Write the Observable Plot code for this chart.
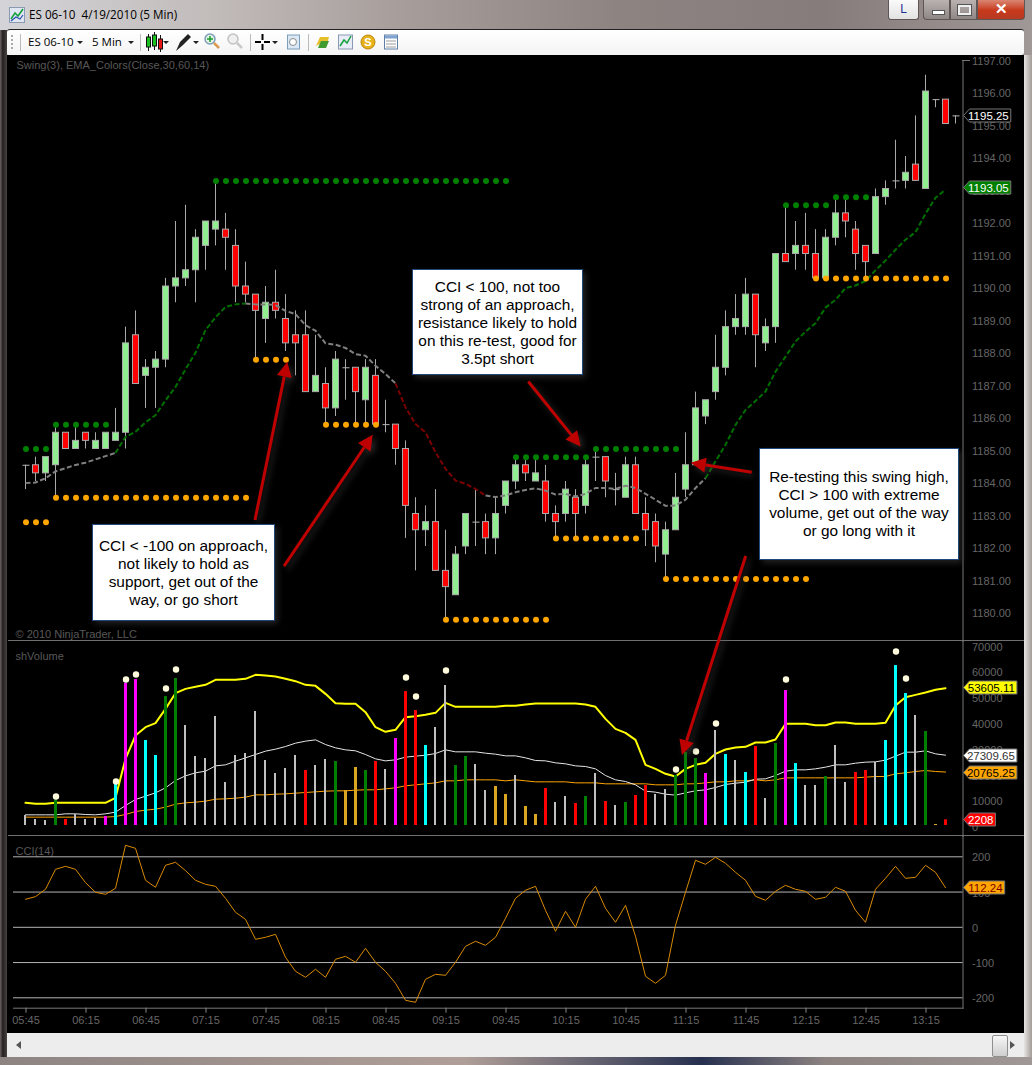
<!DOCTYPE html>
<html>
<head>
<meta charset="utf-8">
<title>ES 06-10 4/19/2010 (5 Min)</title>
<script src="https://cdn.jsdelivr.net/npm/d3@7"></script>
<script src="https://cdn.jsdelivr.net/npm/@observablehq/plot@0.6"></script>
<style>
html,body{margin:0;padding:0;background:#8a8280;}
#win{position:relative;width:1032px;height:1065px;overflow:hidden;
 background:linear-gradient(90deg,#d4d4d8 0%,#c2bcbb 20%,#a89f9c 38%,#8d8482 60%,#867c7b 80%,#a09896 100%);}
#chart{position:absolute;left:7px;top:55px;width:1017px;height:978px;background:#000;}
#rightedge{position:absolute;left:1024px;top:55px;width:8px;height:1010px;background:linear-gradient(90deg,#e6e4e2,#a39b98);}
#leftedge{position:absolute;left:0;top:30px;width:7px;height:1035px;background:linear-gradient(90deg,#6c6664,#241f20 40%,#4a4543);}
#botedge{position:absolute;left:0;top:1057px;width:1032px;height:8px;background:linear-gradient(90deg,#8d8482,#b09f98 45%,#26304f 68%,#8d8482 80%,#a09896);}
#title{position:absolute;left:29px;top:6px;font:11.7px "Open Sans","Noto Sans",sans-serif;color:#000;white-space:pre;}
#toolbar{position:absolute;left:7px;top:29px;width:1017px;height:26px;background:linear-gradient(#fff,#f4f4f4);border-top:1px solid #222;box-sizing:border-box;border-radius:3px;}
.tbt{position:absolute;top:34px;font:11.5px "Open Sans","Noto Sans",sans-serif;color:#000;white-space:pre;}
#toolicons{position:absolute;left:0;top:29px;}
.wb{position:absolute;top:0;height:20px;box-sizing:border-box;border:1px solid #5d5654;border-top:none;}
#scroll{position:absolute;left:7px;top:1033px;width:1017px;height:24px;background:#ededed;}
#thumb{position:absolute;left:985px;top:2px;width:14px;height:20px;background:linear-gradient(#f6f6f6,#cfcfcf);border:1px solid #8e8f8f;border-radius:2px;box-sizing:content-box;}
.sep{position:absolute;left:8px;width:1016px;height:1px;background:#6f6f6f;z-index:2;}
.callout{position:absolute;box-sizing:border-box;background:#fff;border:1px solid #1f497d;z-index:5;
 font:15.4px/18px "Liberation Sans",Arial,sans-serif;color:#000;text-align:center;white-space:pre;box-shadow:3px 3px 6px rgba(60,60,60,.55);}
svg.plotpanel{position:absolute;left:0;}
</style>
</head>
<body>
<div id="win">
  <div id="leftedge"></div>
  <div id="rightedge"></div>
  <div id="botedge"></div>
  <div id="title">ES 06-10  4/19/2010 (5 Min)</div>
  <svg style="position:absolute;left:9px;top:7px" width="16" height="16"><rect x=".5" y=".5" width="15" height="15" fill="#dfe6f2" stroke="#8a9ab5"/><path d="M2,12 L6,6 L9,9 L14,2" fill="none" stroke="#14a03c" stroke-width="1.6"/><path d="M2,14 L7,10 L11,12 L14,8" fill="none" stroke="#2a4fb0" stroke-width="1.2"/></svg>
  <div class="wb" style="left:888px;width:31px;background:linear-gradient(#fafafa,#e2e2e2);border-radius:0 0 3px 3px;font:12px 'Liberation Sans',Arial;color:#1c2f96;text-align:center;line-height:19px;">L</div>
  <div class="wb" style="left:923px;width:27px;background:linear-gradient(#b9b2b0,#8f8785);border-radius:0 0 0 4px;"><div style="position:absolute;left:8px;top:10px;width:11px;height:3px;background:#fff;border:1px solid #555;"></div></div>
  <div class="wb" style="left:950px;width:27px;background:linear-gradient(#b9b2b0,#8f8785);"><div style="position:absolute;left:7px;top:5px;width:9px;height:6px;border:2px solid #eee;outline:1px solid #555;"></div></div>
  <div class="wb" style="left:977px;width:48px;background:linear-gradient(#d98672,#c8391c 55%,#b53a22);border-radius:0 0 4px 0;color:#fff;font:bold 15px 'Liberation Sans',Arial;text-align:center;line-height:18px;">✕</div>
  <div id="toolbar"></div>
  <div class="tbt" style="left:28px">ES 06-10</div>
  <div class="tbt" style="left:92px">5 Min</div>
  <svg id="toolicons" width="410" height="26">
    <g fill="#aaa"><rect x="11" y="6" width="2" height="2"/><rect x="11" y="10" width="2" height="2"/><rect x="11" y="14" width="2" height="2"/><rect x="11" y="18" width="2" height="2"/></g>
    <g stroke="#bbb"><path d="M20.5,5V22M140.5,5V22M250.5,5V22M308.5,5V22"/></g>
    <g fill="#222"><path d="M77,12h6l-3,3zM128,12h6l-3,3zM163,12h6l-3,3zM193,12h6l-3,3zM272,12h6l-3,3z"/></g>
    <g stroke="#111"><path d="M148.5,5V22M154.5,3V21M160.5,6V23"/></g>
    <rect x="146.5" y="8" width="4" height="10" fill="#19c21f" stroke="#111"/><rect x="152.5" y="6" width="4" height="11" fill="#19c21f" stroke="#111"/><rect x="158.5" y="10" width="4" height="10" fill="#e81313" stroke="#111"/>
    <path d="M176,22 L180,13 L188,5 L191,8 L183,16 Z" fill="#222"/>
    <circle cx="210" cy="10" r="5" fill="#e4f3e4" stroke="#7d9eb9" stroke-width="1.5"/><path d="M207,10h6M210,7v6" stroke="#1a9c2c" stroke-width="1.5"/><path d="M214,14l5,5" stroke="#d99a50" stroke-width="2.5"/>
    <circle cx="233" cy="10" r="5" fill="#efefef" stroke="#c2c2c2" stroke-width="1.5"/><path d="M237,14l5,5" stroke="#c9c9c9" stroke-width="2.5"/>
    <path d="M255,13h6M264,13h6M262.5,5v6M262.5,15v6" stroke="#000" stroke-width="2"/>
    <rect x="287.5" y="6" width="12" height="14" fill="#dbe8f6" stroke="#7d9eb9"/><circle cx="293" cy="13" r="3.5" fill="#fff" stroke="#8a8a8a"/>
    <path d="M316,17 l4,-9 h9 l-2,7 h-7z" fill="#e6c02c"/><path d="M318,19 l3,-7 h8 l-3,7z" fill="#3f9b2e"/>
    <rect x="338.5" y="6" width="14" height="14" fill="#e8ecf6" stroke="#8a9ab5"/><path d="M340,17 L344,11 L347,14 L351,7" fill="none" stroke="#14a03c" stroke-width="1.5"/>
    <circle cx="368" cy="13" r="7" fill="#e8b21b" stroke="#b9860e"/><text x="368" y="17" text-anchor="middle" font-size="11" font-weight="bold" fill="#fff" font-family="Liberation Sans">S</text>
    <rect x="384.5" y="6" width="13" height="14" fill="#fff" stroke="#5f7fa8"/><rect x="385" y="6.5" width="12" height="3" fill="#7fa2cf"/><path d="M386,12h10M386,15h10M386,18h10" stroke="#9a9a9a"/>
  </svg>
  <div id="chart"></div>
  <div id="scroll"><div style="position:absolute;left:9px;top:8px;width:0;height:0;border:4px solid transparent;border-right:5px solid #555;border-left:none;"></div><div id="thumb"></div><div style="position:absolute;left:1003px;top:8px;width:0;height:0;border:4px solid transparent;border-left:5px solid #555;border-right:none;"></div></div>
  <div class="sep" style="top:640px"></div>
  <div class="sep" style="top:835px"></div>
  <div style="position:absolute;left:962px;top:60px;width:8px;height:1px;background:#777;z-index:2"></div>
  <div class="callout" style="left:92px;top:524px;width:183px;height:97px;padding-top:12px">CCI &lt; -100 on approach,
not likely to hold as
support, get out of the
way, or go short</div>
  <div class="callout" style="left:412px;top:269px;width:171px;height:106px;padding-top:8px">CCI &lt; 100, not too
strong of an approach,
resistance likely to hold
on this re-test, good for
3.5pt short</div>
  <div class="callout" style="left:759px;top:448px;width:200px;height:112px;padding-top:19px">Re-testing this swing high,
CCI &gt; 100 with extreme
volume, get out of the way
or go long with it</div>
</div>
<script>
// ---- price candles (5-minute bars from 05:45) ----
const opens = [1184.5,1184.5,1184.25,1184.5,1185.5,1185,1185.5,1185,1185,1185.25,
1185.5,1188.5,1187.25,1187.5,1187.75,1190,1190.25,1190.5,1191.25,1191.75,
1191.75,1191.25,1190,1189.75,1189,1189.5,1189,1188.5,1188.5,1186.75,
1187,1186.25,1187.5,1187.5,1186.5,1187.25,1185.75,1185.75,1185,1183,
1182.5,1182.75,1181.25,1180.5,1182,1182.75,1182.75,1182.25,1183.25,1184,
1184.5,1184,1184,1183,1183,1183.5,1183.25,1184.75,1184.75,1183.75,
1183.5,1184.5,1183,1182.75,1181.75,1182.5,1183.75,1184.5,1186,1186.75,
1187.5,1188.75,1188.75,1189.75,1188.25,1188.75,1191,1191,1191.25,1191,
1190.25,1191.5,1192.25,1191.75,1191.25,1191,1192.75,1193.25,1193.25,1193.75,
1193,1195.75,1195.75,1195.25];
const highs = [1184.5,1184.75,1184.75,1185.75,1185.5,1185.75,1185.5,1185.5,1185.5,1186.25,
1188.75,1189.25,1187.75,1188,1190.25,1192,1192.5,1191.75,1192,1193.25,
1192.25,1191.75,1190.75,1189.75,1190,1190.5,1189.75,1189.25,1189.25,1188.5,
1187.5,1188,1187.75,1187.5,1187.75,1187.75,1186.5,1185.75,1185.25,1183.5,
1183.25,1183.75,1182.5,1182,1183,1183.75,1183,1183.5,1184,1184.75,
1184.75,1184.75,1184.5,1183.25,1184,1183.75,1184.75,1185,1184.75,1184.25,
1184.75,1184.75,1183.5,1183,1182.75,1184.25,1185.5,1186.75,1186.5,1188.5,
1189.25,1189.75,1190.25,1189.75,1189,1191,1192.5,1192,1192.25,1191.75,
1191.75,1192.75,1192.75,1192,1191.25,1193,1193.25,1194.5,1194,1195.25,
1196.5,1195.75,1195.75,1195.25];
const lows = [1183.75,1184,1184,1183.5,1185,1185,1185,1185,1185,1185.25,
1185,1187,1186.25,1186.25,1187.5,1189.5,1190,1189.5,1190.5,1191.25,
1190.5,1189.5,1189.5,1187.75,1188.25,1189,1188,1187.25,1186.75,1186.75,
1185.75,1186,1186.5,1185.75,1185.75,1185.75,1185.5,1184.5,1182.25,1181.25,
1182,1181.25,1179.75,1180.5,1181.75,1182,1181.75,1181.75,1183,1183.75,
1184,1184,1182.75,1182.25,1182.75,1182.25,1183,1184,1183.5,1183.25,
1183.5,1183,1182,1181.5,1181,1182.5,1183.5,1184.5,1185.75,1186.5,
1187.25,1188.5,1188.5,1187.5,1188,1188.25,1190.75,1190.5,1190.5,1190.25,
1190.25,1191.25,1191.5,1190.5,1190.25,1191,1192.5,1193,1193,1193.25,
1193,1195.5,1195,1195];
const closes = [1184.5,1184.25,1184.75,1185.5,1185,1185.25,1185.25,1185.25,1185.5,1185.5,
1188.25,1187,1187.5,1187.75,1190,1190.25,1190.5,1191.5,1192,1192,
1191.5,1190,1189.75,1189.25,1189.5,1189.25,1188.25,1188.25,1186.75,1187.25,
1186.25,1187.75,1187.5,1186.75,1187.5,1185.75,1185.75,1185,1183.25,1182.5,
1182.75,1181.25,1180.75,1181.75,1183,1182.75,1182.25,1183,1184,1184.5,
1184.25,1184.25,1183,1182.75,1183.75,1183,1184.5,1184.75,1184,1183.75,
1184.5,1183,1182.5,1182,1182.5,1183.5,1184.5,1186.25,1186.5,1187.5,
1188.75,1189,1189.75,1188.5,1188.75,1191,1190.75,1191.25,1191,1190.25,
1191.5,1192.25,1192,1191,1190.75,1192.75,1193,1193.25,1193.5,1193.25,
1196,1195.75,1195,1195.25];
// EMA_Colors(Close,30,60,14) readings and colour runs
const ema = [1183.95,1183.97,1184.10,1184.31,1184.41,1184.51,1184.58,1184.68,1184.78,1184.88,
1185.37,1185.53,1185.82,1186.04,1186.50,1186.91,1187.45,1187.96,1188.66,1189.05,
1189.37,1189.45,1189.48,1189.45,1189.45,1189.43,1189.25,1189.15,1188.81,1188.64,
1188.25,1188.21,1188.11,1187.92,1187.87,1187.56,1187.31,1187.02,1186.28,1185.77,
1185.51,1184.90,1184.39,1184.03,1183.93,1183.77,1183.57,1183.52,1183.57,1183.67,
1183.74,1183.79,1183.72,1183.60,1183.62,1183.54,1183.62,1183.80,1183.80,1183.77,
1183.87,1183.80,1183.62,1183.44,1183.25,1183.26,1183.44,1183.80,1184.10,1184.62,
1185.13,1185.74,1186.20,1186.48,1186.77,1187.38,1187.84,1188.31,1188.61,1188.87,
1189.35,1189.59,1189.95,1190.03,1190.17,1190.50,1190.80,1191.13,1191.44,1191.67,
1192.24,1192.73,1192.98];
const emaRuns = [
  {from:0,to:9,color:"#808080"},{from:9,to:22,color:"#006f00"},{from:22,to:37,color:"#808080"},
  {from:37,to:46,color:"#7d0000"},{from:46,to:68,color:"#808080"},{from:68,to:92,color:"#006f00"}];
// Swing(3) levels
const swingHighs = [{from:0,to:2,price:1185},{from:3,to:8,price:1185.75},{from:19,to:48,price:1193.25},
  {from:49,to:56,price:1184.75},{from:57,to:65,price:1185},{from:76,to:80,price:1192.5},{from:81,to:84,price:1192.75}];
const swingLows = [{from:0,to:2,price:1182.75},{from:3,to:22,price:1183.5},{from:23,to:26,price:1187.75},
  {from:30,to:35,price:1185.75},{from:42,to:52,price:1179.75},{from:53,to:61,price:1182.25},
  {from:64,to:78,price:1181},{from:79,to:92,price:1190.25}];
const priceTicks = d3.range(1180,1198);
// annotations: arrows in bar index / price
const arrows = [
  {x1:22.95,y1:1182.8,x2:26.18,y2:1187.67},
  {x1:25.85,y1:1181.38,x2:34.72,y2:1185.42},
  {x1:50.28,y1:1187.06,x2:55.52,y2:1185.06},
  {x1:72.62,y1:1184.27,x2:66.52,y2:1184.56},
  {x1:72.02,y1:1181.69,x2:65.65,y2:1175.57}];
// ---- volume ----
const vols = [3880,2330,1940,9960,2330,4270,2330,2720,3490,15900,
55240,56660,32990,27170,50060,57050,38810,26780,26000,42300,
16690,27170,27940,44240,25230,20180,22120,27170,21350,23290,
25610,24840,13580,22510,21350,24840,21730,33760,52000,44630,
31050,38030,54330,23290,26780,23670,13580,15140,12030,19400,
7370,4270,14360,8930,11250,8540,11250,20180,9310,7760,
8930,11640,15520,12030,13970,19400,28330,26000,20180,36870,
27550,25230,20570,30660,10480,31820,52390,24060,15520,15520,
19020,31050,16690,20570,21350,24450,32990,62100,51230,42690,
36480,390,2208];
const s="silver",cy="cyan",m="magenta",g="green",r="red",au="goldenrod";
const volColors = [s,s,s,g,r,s,s,s,m,cy,
m,m,cy,cy,g,g,s,s,s,s,
s,s,s,s,s,s,s,s,r,s,
s,g,au,au,g,r,s,m,r,r,
cy,s,s,g,g,s,s,au,au,s,
au,au,r,s,s,r,g,s,r,s,
g,r,r,s,s,g,g,g,m,s,
cy,s,cy,r,s,g,m,cy,s,s,
g,s,s,r,r,s,cy,cy,cy,s,
g,au,r];
const volYellow = [8800,8410,8410,8800,8800,8800,8800,8800,8800,10740,
25880,34940,38170,39730,45290,51370,53050,53830,54610,56550,
56550,56550,56940,58490,58230,57840,56940,56030,54610,54220,
51110,47490,47230,47230,44000,38170,36360,37140,42060,42440,
42960,43740,47620,46070,46070,46070,46070,46070,46450,46450,
46970,47360,47360,47360,47360,47360,46970,46070,41410,37530,
35970,33260,23550,22000,20060,19020,22000,23550,24330,27820,
29500,30280,30540,32220,32220,33390,39470,39470,39470,38950,
38950,39980,39980,39470,39470,39470,39860,46580,49820,50720,
51630,52670,53300];
const volWhite = [4140,4140,4140,4140,4530,4530,4270,4140,4530,5180,
7760,10090,11390,12680,14620,17470,19280,20450,21090,23160,
23550,24970,26270,27560,28860,29630,30670,31960,32740,33260,
31440,30150,29370,28990,27560,25880,25100,25490,26530,26920,
27300,27950,29370,28600,28600,28600,28080,27690,27040,27040,
26270,25230,25100,24330,23940,23160,22900,22000,19410,17730,
17080,15790,13330,12940,12160,11780,12680,13460,13850,14750,
15920,16430,16820,17990,18120,19410,21090,21610,21610,22000,
22650,23550,23550,24200,24590,24720,25360,26920,28470,28470,
28990,27820,27310];
const volOrange = [3240,3240,3240,3240,3240,3240,3240,3240,3240,3490,
4270,5430,5950,6340,7120,8280,8800,9060,9450,10220,
10350,10610,11000,11900,11900,12160,12290,12550,12810,13070,
13330,13460,13460,13720,13850,13850,14230,14620,15400,15790,
16180,16560,17340,17340,17730,17730,17730,17730,17340,17730,
17340,16950,16950,16950,16950,16560,16560,16560,16180,16180,
16180,16180,16180,15790,15790,15790,16180,16180,16560,16950,
16950,17340,17340,17730,17340,17730,18500,18500,18500,18500,
18500,18500,18500,18500,18760,19020,19020,20060,20450,20960,
21350,20960,20765];
const volDots = [[3,11260],[9,17080],[10,56680],[11,58620],[14,53180],[15,60560],[38,57450],[39,50080],
  [42,60170],[65,21740],[67,28730],[69,39600],[76,56680],[87,67550],[88,57070]];
const volTicks = [0,10000,20000,30000,40000,50000,60000,70000];
// ---- CCI(14) ----
const cci = [79.4,87,107.8,164.5,173,164.5,126.7,99.3,93.6,110.6,
232.6,224.1,133.3,113.5,175.9,184.4,160.8,133.3,122,116.3,
82.3,42.6,22.7,-34,-28.4,-19.9,-85.1,-124.8,-141.8,-119.1,
-141.8,-90.8,-82.3,-99.3,-59.6,-99.3,-124.8,-158.9,-207.1,-212.8,
-147.5,-133.3,-136.2,-99.3,-53.9,-39.7,-51.1,-28.4,25.5,82.3,
105,116.3,48.2,-11.3,45.4,0,79.4,116.3,53.9,14.2,
62.4,-25.5,-139,-158.9,-136.2,5.7,99.3,190.1,178.7,198.6,
181.6,156,133.3,87.9,76.6,102.1,119.1,107.8,102.1,79.4,
85.1,113.5,102.1,48.2,14.2,107.8,139,173,139,141.8,
175.9,156,112.24];
const cciTicks = [-200,-100,0,100,200];
const timeLabels = ["05:45","06:15","06:45","07:15","07:45","08:15","08:45","09:15","09:45","10:15","10:45","11:15","11:45","12:15","12:45","13:15"];
// value flags on the right-hand axes
const priceFlags = [{value:1195.25,label:"1195.25",fill:"#000",ink:"#fff"},{value:1193.05,label:"1193.05",fill:"#008000",ink:"#fff"}];
const volFlags = [{value:53605.11,label:"53605.11",fill:"#ffff00",ink:"#000"},{value:27309.65,label:"27309.65",fill:"#fff",ink:"#333"},
  {value:20765.25,label:"20765.25",fill:"#ffa500",ink:"#000"},{value:2208,label:"2208",fill:"#ff0000",ink:"#fff"}];
const cciFlags = [{value:112.24,label:"112.24",fill:"#ffa500",ink:"#7a0000"}];

// ---- tables ----
const candles = closes.map((c,i)=>({i,open:opens[i],high:highs[i],low:lows[i],close:c}));
const bodies = candles.filter(d=>d.open!==d.close);
const dojis = candles.filter(d=>d.open===d.close);
const expand = runs => runs.flatMap(d=>d3.range(d.from,d.to+1).map(i=>({i,price:d.price})));
const volumes = vols.map((v,i)=>({i,v,c:volColors[i]}));
const xScale = {domain:[0,93],range:[25.5,955.5],axis:null};
const font = '"Liberation Sans",Arial,sans-serif';
const baseStyle = {background:"transparent",overflow:"visible",fontFamily:font,fontSize:"11px",color:"#666"};
const axisInk = "#666";

// flag marks: read positions from the plot's y scale
function flagMark(rows){
  return (index,{y},values,dims)=>{
    const g = d3.create("svg:g");
    const x0 = dims.width-dims.marginRight+1;
    for(const f of rows){
      const yy = Math.round(y(f.value))+.5;
      const w = 6.5 + f.label.replace(".","").length*6.12 + (f.label.includes(".")?3.06:0);
      g.append("path").attr("d",`M${x0},${yy}L${x0+6},${yy-6.5}H${x0+w+1}V${yy+6.5}H${x0+6}Z`)
        .attr("fill",f.fill).attr("stroke","#777");
      g.append("text").attr("x",x0+w-1).attr("y",yy).attr("dy","0.35em").attr("text-anchor","end")
        .attr("fill",f.ink).attr("font-size",11.5).attr("font-family",font).text(f.label);
    }
    return g.node();
  };
}
// red annotation arrows with filled heads
function arrowMark(rows){
  return (index,{x,y})=>{
    const g = d3.create("svg:g").style("filter","drop-shadow(3px 3px 3px rgba(75,75,75,.55))");
    for(const a of rows){
      const X1=x(a.x1),Y1=y(a.y1),X2=x(a.x2),Y2=y(a.y2);
      const L=Math.hypot(X2-X1,Y2-Y1),ux=(X2-X1)/L,uy=(Y2-Y1)/L,len=15,hw=7.5;
      const bx=X2-ux*len,by=Y2-uy*len;
      g.append("line").attr("x1",X1).attr("y1",Y1).attr("x2",bx).attr("y2",by).attr("stroke","#bf0000").attr("stroke-width",3);
      g.append("path").attr("d",`M${X2},${Y2}L${bx-uy*hw},${by+ux*hw}L${bx+uy*hw},${by-ux*hw}Z`).attr("fill","#bf0000");
    }
    return g.node();
  };
}
const place = (svg,top,z)=>{svg.classList.add("plotpanel");svg.style.top=top+"px";svg.style.zIndex=z;document.getElementById("win").appendChild(svg);};

// ---- main price panel ----
place(Plot.plot({
  width:1032,height:585,marginLeft:13,marginRight:69.5,marginTop:4,marginBottom:0,style:baseStyle,
  x:xScale,
  y:{domain:[1180,1197],range:[555,2.5],axis:null},
  marks:[
    Plot.frame({anchor:"right",stroke:"#777"}),
    Plot.axisY({ticks:priceTicks,anchor:"right",tickSize:0,tickPadding:9,tickFormat:d=>d.toFixed(2),color:axisInk,fontSize:11,dy:2,label:null}),
    Plot.text(["Swing(3), EMA_Colors(Close,30,60,14)"],{text:d=>d,frameAnchor:"top-left",dx:3,dy:1,fill:"#585858",fontSize:11}),
    Plot.text(["© 2010 NinjaTrader, LLC"],{text:d=>d,frameAnchor:"bottom-left",dx:2,dy:-4,fill:"#585858",fontSize:11}),
    Plot.ruleX(candles,{x:"i",y1:"low",y2:"high",stroke:"#a9a9a9",dx:-0.5}),
    Plot.rect(bodies,{x1:d=>d.i-.3,x2:d=>d.i+.3,y1:"open",y2:"close",fill:d=>d.close>d.open?"#90ee90":"#ff0000",stroke:"#a9a9a9"}),
    Plot.link(dojis,{x1:d=>d.i-.35,x2:d=>d.i+.35,y1:"open",y2:"close",stroke:"#b5b5b5"}),
    ...emaRuns.map(run=>Plot.line(ema.map((v,i)=>({i,v})).filter(d=>d.i>=run.from&&d.i<=run.to),
       {x:"i",y:"v",stroke:run.color,strokeWidth:2,strokeDasharray:"5,2.5",strokeLinecap:"butt",dx:-0.5})),
    Plot.dot(expand(swingHighs),{x:"i",y:"price",r:3,fill:"#008000"}),
    Plot.dot(expand(swingLows),{x:"i",y:"price",r:3,fill:"#ffa500"}),
    flagMark(priceFlags),
    arrowMark(arrows)
  ]
}),56,3);

// ---- volume panel ----
place(Plot.plot({
  width:1032,height:195,marginLeft:13,marginRight:69.5,marginTop:0,marginBottom:0,style:baseStyle,
  x:xScale,
  y:{domain:[0,70000],range:[184,3.7],axis:null},
  color:{type:"identity"},
  marks:[
    Plot.frame({anchor:"right",stroke:"#777"}),
    Plot.axisY({ticks:volTicks,anchor:"right",tickSize:0,tickPadding:9,tickFormat:d=>String(d),color:axisInk,fontSize:11,dy:2,label:null}),
    Plot.text(["shVolume"],{text:d=>d,frameAnchor:"top-left",dx:2,dy:11,fill:"#585858",fontSize:11}),
    Plot.line(volOrange,{x:(d,i)=>i,y:d=>d,stroke:"#ffa500",strokeWidth:1,dx:-0.5}),
    Plot.line(volWhite,{x:(d,i)=>i,y:d=>d,stroke:"#e6e6e6",strokeWidth:1,dx:-0.5}),
    Plot.line(volYellow,{x:(d,i)=>i,y:d=>d,stroke:"#ffff00",strokeWidth:2,dx:-0.5}),
    Plot.ruleX(volumes.filter(d=>d.c==="silver"),{x:"i",y1:0,y2:"v",stroke:"c",strokeWidth:2,dx:-1}),
    Plot.ruleX(volumes.filter(d=>d.c!=="silver"),{x:"i",y1:0,y2:"v",stroke:"c",strokeWidth:3,dx:-0.5}),
    Plot.dot(volDots,{x:d=>d[0],y:d=>d[1],r:3.2,fill:"#fffbdc"}),
    flagMark(volFlags)
  ]
}),641,1);

// ---- CCI panel ----
place(Plot.plot({
  width:1032,height:197,marginLeft:13,marginRight:69.5,marginTop:0,marginBottom:25.3,style:baseStyle,
  x:{...xScale},
  y:{domain:[-200,200],range:[161.3,20.3],axis:null},
  marks:[
    Plot.frame({anchor:"right",stroke:"#777"}),
    Plot.frame({anchor:"bottom",stroke:"#777"}),
    Plot.text(["CCI(14)"],{text:d=>d,frameAnchor:"top-left",dx:2,dy:11,fill:"#585858",fontSize:11}),
    Plot.gridY({ticks:cciTicks,stroke:"#b4b4b4",strokeOpacity:1}),
    Plot.axisY({ticks:cciTicks,anchor:"right",tickSize:0,tickPadding:9,color:axisInk,fontSize:11,dy:1,label:null,tickFormat:d=>String(d)}),
    Plot.axisX({ticks:timeLabels.map((_,k)=>k*6),tickFormat:i=>timeLabels[i/6],tickSize:5,tickPadding:3,color:axisInk,stroke:"#888",fontSize:11,label:null}),
    Plot.line(cci,{x:(d,i)=>i,y:d=>d,stroke:"#d98a00",strokeWidth:1,dx:-0.5}),
    flagMark(cciFlags)
  ]
}),836,1);
</script>
</body>
</html>
